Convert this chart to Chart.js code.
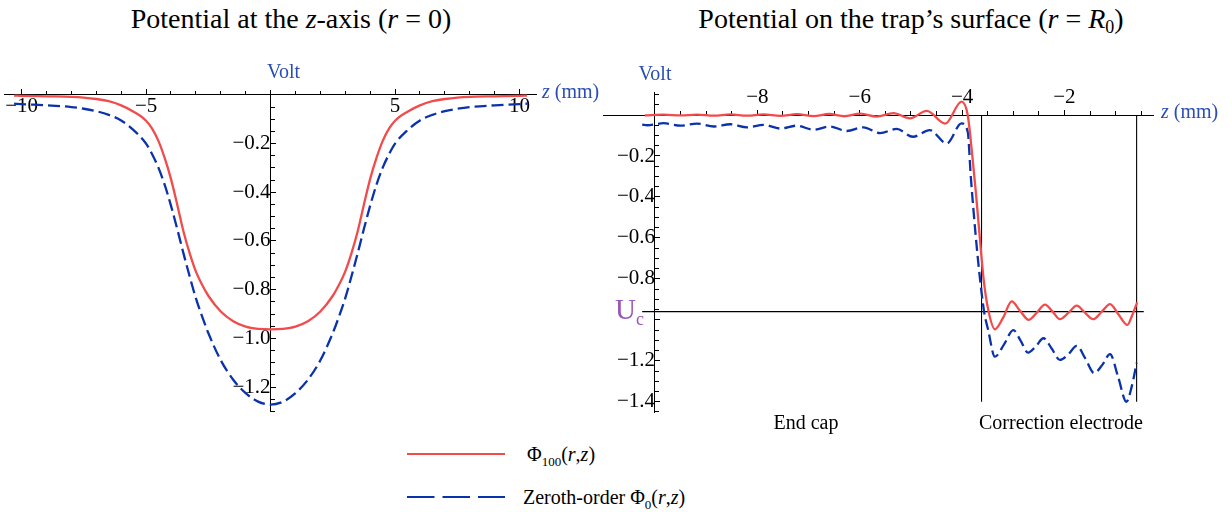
<!DOCTYPE html>
<html>
<head>
<meta charset="utf-8">
<script src="https://cdn.jsdelivr.net/npm/chart.js@4.4.1/dist/chart.umd.min.js"></script>
<style>
  html, body { margin:0; padding:0; background:#fff; }
  body { width:1232px; height:512px; position:relative; overflow:hidden; font-family:"Liberation Serif","Times New Roman",serif; color:#000; }
  canvas { position:absolute; top:0; }
  #cAxis { left:0; }
  #cSurf { left:580px; }
  .title { position:absolute; top:2px; font-size:28px; white-space:nowrap; transform:translateX(-50%); line-height:34px; }
  .title sub { font-size:18px; vertical-align:-5px; line-height:0; }
  .leg { position:absolute; font-size:20px; white-space:nowrap; line-height:24px; }
  .leg sub { font-size:13px; vertical-align:-5px; line-height:0; }
  svg { position:absolute; }
</style>
</head>
<body>
<div class="title" style="left:291px;">Potential at the <i>z</i>-axis (<i>r</i> = 0)</div>
<div class="title" style="left:911px;">Potential on the trap’s surface (<i>r</i> = <i>R</i><sub>0</sub>)</div>
<canvas id="cAxis" width="620" height="430"></canvas>
<canvas id="cSurf" width="652" height="440"></canvas>
<svg style="left:405px;top:448px" width="104" height="12"><line x1="2" y1="6" x2="100" y2="6" stroke="#f24b4b" stroke-width="2"/></svg>
<div class="leg" style="left:527px;top:442px;">Φ<sub>100</sub>(<i>r</i>,<i>z</i>)</div>
<svg style="left:405px;top:491px" width="104" height="12"><line x1="2" y1="6" x2="100" y2="6" stroke="#0a32aa" stroke-width="2.2" stroke-dasharray="27.5 8"/></svg>
<div class="leg" style="left:523px;top:485px;">Zeroth-order Φ<sub>0</sub>(<i>r</i>,<i>z</i>)</div>
<script>
// ---------------- data ----------------
// Left panel: potential on the z-axis (r = 0)
const axisZ = [-10.3,-10,-9,-8,-7.5,-7,-6.5,-6,-5.5,-5,-4.75,-4.5,-4.25,-4,-3.75,-3.5,-3.25,-3,-2.75,-2.5,-2,-1.5,-1,-0.5,0,
               0.5,1,1.5,2,2.5,2.75,3,3.25,3.5,3.75,4,4.25,4.5,4.75,5,5.5,6,6.5,7,7.5,8,9,10,10.3];
const axisPhi100 = [-0.003,-0.004,-0.006,-0.008,-0.011,-0.017,-0.026,-0.043,-0.069,-0.106,-0.14,-0.19,-0.26,-0.345,-0.45,-0.56,-0.65,-0.725,-0.78,-0.825,-0.89,-0.93,-0.952,-0.961,-0.963,
                    -0.961,-0.952,-0.93,-0.89,-0.825,-0.78,-0.725,-0.65,-0.56,-0.45,-0.345,-0.26,-0.19,-0.14,-0.106,-0.069,-0.043,-0.026,-0.017,-0.011,-0.008,-0.006,-0.004,-0.003];
const axisPhi0 = [-0.036,-0.038,-0.043,-0.050,-0.057,-0.067,-0.082,-0.105,-0.145,-0.20,-0.245,-0.30,-0.37,-0.455,-0.55,-0.65,-0.745,-0.835,-0.91,-0.978,-1.09,-1.17,-1.225,-1.26,-1.272,
                  -1.26,-1.225,-1.17,-1.09,-0.978,-0.91,-0.835,-0.745,-0.65,-0.55,-0.455,-0.37,-0.30,-0.245,-0.20,-0.145,-0.105,-0.082,-0.067,-0.057,-0.050,-0.043,-0.038,-0.036];

// Right panel: potential on the trap's surface (r = R0)
const surfZ100 = [-10.2,-9.83,-9.5,-9.18,-8.85,-8.53,-8.2,-7.88,-7.55,-7.23,-6.9,-6.6,-6.3,-5.99,-5.67,-5.34,-5.02,-4.69,-4.33,-4.01,-3.89,-3.8,-3.73,-3.66,-3.58,-3.49,-3.36,-3.2,-3.03,-2.87,-2.7,-2.54,-2.38,-2.23,-2.09,-1.92,-1.76,-1.6,-1.44,-1.27,-1.11,-0.94,-0.77,-0.68,-0.58];
const surfPhi100 = [-0.002,0.002,-0.002,0.002,-0.003,0.003,-0.003,0.003,-0.004,0.004,-0.005,0.005,-0.006,0.007,-0.008,0.009,-0.016,0.02,-0.042,0.065,0.0,-0.2,-0.38,-0.58,-0.8,-0.95,-1.046,-0.99,-0.91,-0.955,-1.0,-0.965,-0.926,-0.96,-0.997,-0.965,-0.931,-0.965,-0.997,-0.96,-0.923,-0.975,-1.025,-0.98,-0.915];
const surfZ0 = [-10.25,-10.15,-9.83,-9.5,-9.18,-8.85,-8.53,-8.2,-7.88,-7.55,-7.23,-6.9,-6.58,-6.25,-5.93,-5.6,-5.28,-4.96,-4.63,-4.30,-4.01,-3.89,-3.83,-3.73,-3.65,-3.57,-3.49,-3.36,-3.18,-3.0,-2.86,-2.71,-2.56,-2.41,-2.25,-2.09,-1.93,-1.76,-1.59,-1.42,-1.26,-1.11,-0.95,-0.79,-0.68,-0.59];
const surfPhi0 = [-0.047,-0.05,-0.040,-0.052,-0.042,-0.056,-0.045,-0.06,-0.048,-0.066,-0.052,-0.072,-0.056,-0.078,-0.06,-0.088,-0.068,-0.106,-0.074,-0.139,-0.041,-0.082,-0.3,-0.6,-0.8,-0.96,-1.05,-1.18,-1.12,-1.05,-1.10,-1.16,-1.13,-1.09,-1.14,-1.196,-1.17,-1.127,-1.19,-1.26,-1.22,-1.167,-1.28,-1.40,-1.32,-1.21];

const Uc = -0.96;                       // correction-electrode voltage level
const ucLineZ = [-10.25, -0.45];
const electrodeEdgesZ = [-3.62, -0.59];
const electrodeLineV = [0, -1.4];

// tick labels
const axisXTicks = [-10, -5, 5, 10];
const axisXLabels = ['−10', '−5', '5', '10'];
const axisYTicks = [-0.2, -0.4, -0.6, -0.8, -1.0, -1.2];
const axisYLabels = ['−0.2', '−0.4', '−0.6', '−0.8', '−1.0', '−1.2'];
const surfXTicks = [-8, -6, -4, -2];
const surfXLabels = ['−8', '−6', '−4', '−2'];
const surfYTicks = [-0.2, -0.4, -0.6, -0.8, -1.0, -1.2, -1.4];
const surfYLabels = ['−0.2', '−0.4', '−0.6', '−0.8', '', '−1.2', '−1.4'];
const regionLabels = ['End cap', 'Correction electrode'];

// ---------------- styles ----------------
const RED = '#f24b4b', BLUE = '#0a32aa', LABEL_BLUE = '#2a4db5', PURPLE = '#9a55b8';
const FAM = "'Liberation Serif','Times New Roman',serif";
const FONT = { family: FAM, size: 21 };
const regionLabelZ = [-7.05, -2.07];

const zip = (xs, ys) => xs.map((x, i) => ({ x, y: ys[i] }));
const steps = (a, b, s) => { const o = []; const n = Math.round((b - a) / s); for (let i = 0; i <= n; i++) o.push(Math.round((a + i * s) * 1000) / 1000); return o; };

function majorScale(axis, min, max, at, vals, labels, tl, pad) {
  const pos = axis === 'x' ? { y: at } : { x: at };
  return {
    type: 'linear', axis, min, max, bounds: 'data', position: pos,
    afterBuildTicks: s => { s.ticks = vals.map(v => ({ value: v })); },
    afterFit: s => { if (axis === 'x') s.height = 0; else s.width = 0; },
    ticks: { autoSkip: false, maxRotation: 0, minRotation: 0, padding: pad, color: '#000', font: FONT,
             callback: (v, i) => labels[i] },
    grid: { drawOnChartArea: false, drawTicks: true, tickLength: tl, tickColor: '#000', tickWidth: 1 },
    border: { display: true, color: '#000', width: 1 }
  };
}
function minorScale(axis, min, max, at, vals, tl) {
  const pos = axis === 'x' ? { y: at } : { x: at };
  return {
    type: 'linear', axis, min, max, bounds: 'data', position: pos,
    afterBuildTicks: s => { s.ticks = vals.map(v => ({ value: v })); },
    afterFit: s => { if (axis === 'x') s.height = 0; else s.width = 0; },
    ticks: { display: false },
    grid: { drawOnChartArea: false, drawTicks: true, tickLength: tl, tickColor: '#000', tickWidth: 1 },
    border: { display: false }
  };
}
function curve(data, color, dash) {
  return { data, borderColor: color, borderWidth: 2.3, borderDash: dash || [], pointRadius: 0,
           cubicInterpolationMode: 'monotone', fill: false, xAxisID: 'x', yAxisID: 'y', clip: false };
}
function rule(data) {
  return { data, borderColor: '#000', borderWidth: 1.1, pointRadius: 0, tension: 0, fill: false, xAxisID: 'x', yAxisID: 'y' };
}
function drawZmm(ctx, x, y) {
  ctx.fillStyle = LABEL_BLUE; ctx.textAlign = 'left'; ctx.textBaseline = 'middle';
  ctx.font = 'italic 20px ' + FAM; ctx.fillText('z', x, y);
  const w = ctx.measureText('z').width;
  ctx.font = '20px ' + FAM; ctx.fillText(' (mm)', x + w, y);
}
const baseOpts = { responsive: false, animation: false, events: [],
  plugins: { legend: { display: false }, tooltip: { enabled: false } } };

function drawCharts() {
  // ---------------- left chart ----------------
  new Chart(document.getElementById('cAxis'), {
    type: 'line',
    data: { datasets: [
      curve(zip(axisZ, axisPhi100), RED),
      curve(zip(axisZ, axisPhi0), BLUE, [12, 5])
    ] },
    options: Object.assign({}, baseOpts, {
      layout: { padding: { left: 4, right: 83, top: 90, bottom: 15.5 } },
      scales: {
        x: majorScale('x', -10.7, 10.7, 0, axisXTicks, axisXLabels, -6, 5),
        y: majorScale('y', -1.30, 0.02, 0, axisYTicks, axisYLabels, -6, 6),
        xMinor: minorScale('x', -10.7, 10.7, 0, steps(-10, 10, 1), -4),
        yMinor: minorScale('y', -1.30, 0.02, 0, steps(-1.3, 0, 0.05), -4)
      }
    }),
    plugins: [{ id: 'axisText', afterDraw(ch) {
      const ctx = ch.ctx, xs = ch.scales.x, ys = ch.scales.y;
      ctx.save();
      ctx.fillStyle = LABEL_BLUE; ctx.font = '20px ' + FAM; ctx.textAlign = 'center'; ctx.textBaseline = 'middle';
      ctx.fillText('Volt', xs.getPixelForValue(0) + 13, ys.top - 17);
      drawZmm(ctx, xs.right + 5, ys.getPixelForValue(0) - 2);
      ctx.restore();
    } }]
  });

  // ---------------- right chart ----------------
  new Chart(document.getElementById('cSurf'), {
    type: 'line',
    data: { datasets: [
      curve(zip(surfZ100, surfPhi100), RED),
      curve(zip(surfZ0, surfPhi0), BLUE, [11, 5]),
      rule(zip(ucLineZ, [Uc, Uc])),
      rule(zip([electrodeEdgesZ[0], electrodeEdgesZ[0]], electrodeLineV)),
      rule(zip([electrodeEdgesZ[1], electrodeEdgesZ[1]], electrodeLineV))
    ] },
    options: Object.assign({}, baseOpts, {
      layout: { padding: { left: 23.8, right: 79, top: 92.5, bottom: 27.6 } },
      scales: {
        x: majorScale('x', -11.0, -0.27, 0, surfXTicks, surfXLabels, -6, -24),
        y: majorScale('y', -1.452, 0.11, -10, surfYTicks, surfYLabels, -6, 6),
        xMinor: minorScale('x', -11.0, -0.27, 0, steps(-10, -0.5, 0.5), -4),
        yMinor: minorScale('y', -1.452, 0.11, -10, steps(-1.45, 0.1, 0.05), -4)
      }
    }),
    plugins: [{ id: 'surfText', afterDraw(ch) {
      const ctx = ch.ctx, xs = ch.scales.x, ys = ch.scales.y;
      const xAxisPix = xs.getPixelForValue(-10);
      ctx.save();
      ctx.fillStyle = LABEL_BLUE; ctx.font = '20px ' + FAM; ctx.textAlign = 'center'; ctx.textBaseline = 'middle';
      ctx.fillText('Volt', xAxisPix, ys.top - 17.5);
      drawZmm(ctx, xs.right + 8, ys.getPixelForValue(0) - 2);
      // U_c label
      const yU = ys.getPixelForValue(Uc);
      ctx.fillStyle = PURPLE; ctx.textBaseline = 'alphabetic'; ctx.textAlign = 'left';
      ctx.font = '29px ' + FAM; const wU = ctx.measureText('U').width;
      ctx.font = '18px ' + FAM; const wc = ctx.measureText('c').width;
      const x0 = xAxisPix - 11 - wc - wU;
      ctx.font = '29px ' + FAM; ctx.fillText('U', x0, yU + 7);
      ctx.font = '18px ' + FAM; ctx.fillText('c', x0 + wU, yU + 13);
      // region labels
      ctx.fillStyle = '#000'; ctx.font = '20px ' + FAM; ctx.textAlign = 'center'; ctx.textBaseline = 'middle';
      regionLabels.forEach((t, i) => ctx.fillText(t, xs.getPixelForValue(regionLabelZ[i]), ys.bottom + 11));
      ctx.restore();
    } }]
  });
}

const fontLoads = [
  document.fonts.load('20px "Liberation Serif"'),
  document.fonts.load('italic 20px "Liberation Serif"')
];
Promise.all(fontLoads).then(drawCharts, drawCharts);
</script>
</body>
</html>
